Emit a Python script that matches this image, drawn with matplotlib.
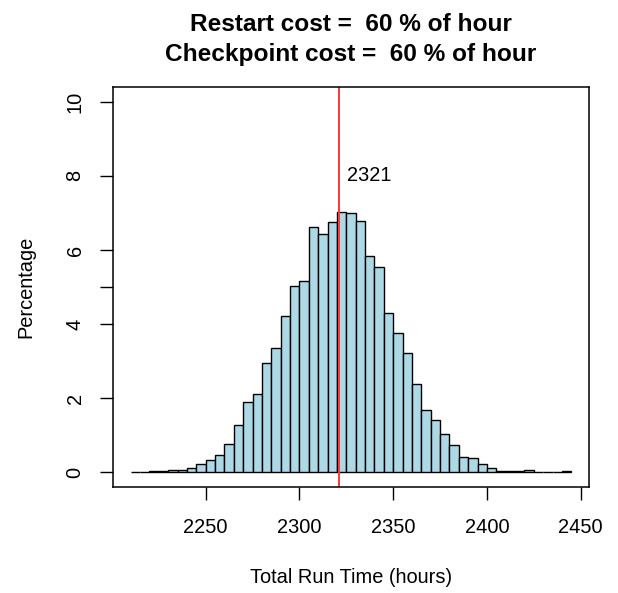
import matplotlib
matplotlib.use("Agg")
import matplotlib.pyplot as plt
import numpy as np

plt.rcParams['font.family'] = ['Liberation Sans', 'DejaVu Sans']

# histogram of simulated total run times, 5 hour bins, in percent
bin_start = 2210
bin_width = 5
percentages = [0.01, 0.00, 0.02, 0.03, 0.05, 0.07, 0.10, 0.21, 0.34, 0.46,
               0.76, 1.28, 1.89, 2.10, 2.95, 3.35, 4.23, 5.03, 5.17, 6.63,
               6.43, 6.75, 7.03, 7.00, 6.79, 5.83, 5.53, 4.29, 3.76, 3.21,
               2.39, 1.68, 1.41, 1.03, 0.74, 0.41, 0.38, 0.23, 0.10, 0.04,
               0.04, 0.03, 0.05, 0.00, 0.00, 0.00, 0.02]
mean_run_time = 2321
label_height = 8

x_ticks = [2250, 2300, 2350, 2400, 2450]
y_ticks = [0, 2, 4, 5, 6, 8, 10]
y_tick_labels = ['0', '2', '4', '', '6', '8', '10']

W, H = 618, 593
left, right, top, bottom = 113, 589, 87, 487
fig = plt.figure(figsize=(W / 100, H / 100), dpi=100)
ax = fig.add_axes([left / W, 1 - bottom / H, (right - left) / W, (bottom - top) / H])

edges = bin_start + bin_width * np.arange(len(percentages))
ax.bar(edges, percentages, width=bin_width, align='edge',
       color='#ADD8E6', edgecolor='black', linewidth=1.0)

ax.axvline(mean_run_time, color='#FF3535', linewidth=1.4)
ax.text(mean_run_time + 4.5, label_height, str(mean_run_time),
        fontsize=14.4, ha='left', va='center')

lo, hi = bin_start, bin_start + bin_width * len(percentages)
pad = 0.04 * (hi - lo)
ax.set_xlim(lo - pad, hi + pad)
ax.set_ylim(-0.4, 10.4)

ax.set_xticks(x_ticks)
ax.set_yticks(y_ticks)
ax.set_yticklabels(y_tick_labels, rotation=90, va='center')
ax.tick_params(axis='both', direction='out', length=9.5, width=1.0,
               labelsize=14.4)
ax.tick_params(axis='x', pad=12.5)
ax.tick_params(axis='y', pad=11)

for s in ax.spines.values():
    s.set_linewidth(1.1)

ax.set_xlabel('Total Run Time (hours)', fontsize=14.4, labelpad=22.5)
ax.set_ylabel('Percentage', fontsize=14.4, labelpad=22)

# two-line bold title centred over the plot region
cx = (left + right) / 2 / W
fig.text(cx, 1 - 31 / H, 'Restart cost =  60 % of hour',
         ha='center', va='baseline', fontsize=17.6, fontweight='bold')
fig.text(cx, 1 - 61 / H, 'Checkpoint cost =  60 % of hour',
         ha='center', va='baseline', fontsize=17.6, fontweight='bold')

fig.savefig('out.png', dpi=100)
